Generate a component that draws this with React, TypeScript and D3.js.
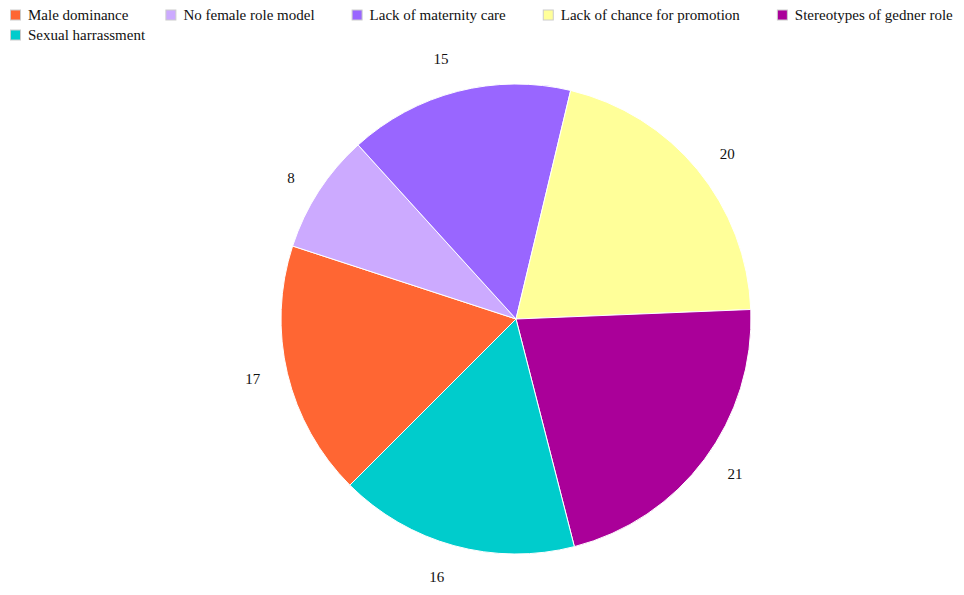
import React, { useEffect, useRef } from "react";
import * as d3 from "d3";

const categories = [
  "Male dominance",
  "No female role model",
  "Lack of maternity care",
  "Lack of chance for promotion",
  "Stereotypes of gedner role",
  "Sexual harrassment",
];
const values = [17, 8, 15, 20, 21, 16];
const colors = ["#FF6633", "#CCAAFF", "#9966FF", "#FFFF99", "#AA0099", "#00CCCC"];

const W = 964;
const H = 595;

export default function App() {
  const ref = useRef<SVGSVGElement>(null);

  useEffect(() => {
    const svg = d3.select(ref.current);
    svg.selectAll("*").remove();
    const font = "'Liberation Serif', 'Times New Roman', serif";

    const cx = 516;
    const cy = 319;
    const r = 235;
    const labelR = 260;

    const data = categories.map((c, i) => ({ c, v: values[i], color: colors[i] }));
    const pie = d3
      .pie<any>()
      .value((d) => d.v)
      .sort(null)
      .startAngle((5 * Math.PI) / 4)
      .endAngle((5 * Math.PI) / 4 + 2 * Math.PI);
    const arcs = pie(data);
    const arc = d3.arc<any>().innerRadius(0).outerRadius(r);
    const labelArc = d3.arc<any>().innerRadius(labelR).outerRadius(labelR);

    const g = svg.append("g").attr("transform", `translate(${cx},${cy})`);
    g.selectAll("path")
      .data(arcs)
      .enter()
      .append("path")
      .attr("d", arc as any)
      .attr("fill", (d: any) => d.data.color)
      .attr("stroke", "#ffffff")
      .attr("stroke-width", 1);

    arcs.forEach((d: any) => {
      const [px, py] = labelArc.centroid(d);
      const mid = (d.startAngle + d.endAngle) / 2;
      const t = g
        .append("text")
        .attr("text-anchor", "middle")
        .attr("dominant-baseline", "central")
        .attr("font-family", font)
        .attr("font-size", 15)
        .attr("fill", "#111")
        .text(String(d.data.v));
      const w = (t.node() as SVGTextElement).getComputedTextLength();
      const c = Math.abs(Math.cos(mid));
      const sx = Math.sign(px) * (w / 2 + 3);
      const sy = Math.sign(py) * 10 * Math.pow(c, 8);
      t.attr("x", px + sx).attr("y", py + sy);
    });

    // legend
    const legend = svg.append("g");
    let x = 10;
    let row = 0;
    const gap = 37;
    data.forEach((d) => {
      const item = legend.append("g");
      item
        .append("rect")
        .attr("x", 0.5)
        .attr("y", 0.5)
        .attr("width", 10)
        .attr("height", 10)
        .attr("fill", d.color)
        .attr("stroke", "#cccccc")
        .attr("stroke-width", 1);
      const t = item
        .append("text")
        .attr("x", 18)
        .attr("y", 10.5)
        .attr("font-family", font)
        .attr("font-size", 15)
        .attr("fill", "#111")
        .text(d.c);
      const tw = (t.node() as SVGTextElement).getComputedTextLength();
      const iw = 18 + tw;
      if (x + iw > W - 2 && x > 10) {
        x = 10;
        row += 1;
      }
      item.attr("transform", `translate(${x},${9.5 + row * 20})`);
      x += iw + gap;
    });
  }, []);

  return (
    <svg
      ref={ref}
      width={W}
      height={H}
      style={{ position: "absolute", left: 0, top: 0, background: "#fff" }}
    />
  );
}
